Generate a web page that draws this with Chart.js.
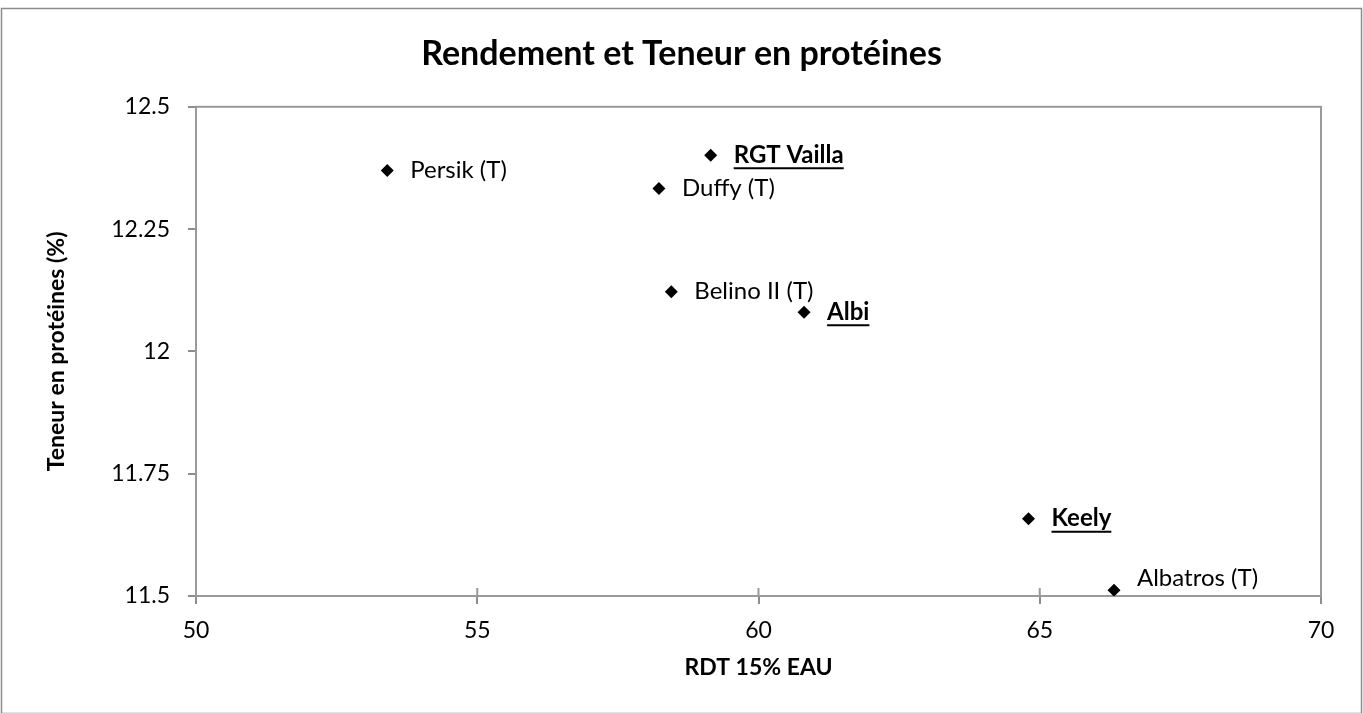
<!DOCTYPE html>
<html>
<head>
<meta charset="utf-8">
<script src="https://cdn.jsdelivr.net/npm/chart.js@4.4.1/dist/chart.umd.min.js"></script>
<style>
  html, body { margin: 0; padding: 0; background: #fff; }
  #wrap { width: 1363px; height: 713px; position: relative; }
</style>
</head>
<body>
<div id="wrap"><canvas id="scatterChart"></canvas></div>
<script>
var varietes = ['Persik (T)', 'RGT Vailla', 'Duffy (T)', 'Belino II (T)', 'Albi', 'Keely', 'Albatros (T)'];
var rdt = [53.40, 59.15, 58.23, 58.45, 60.81, 64.80, 66.32];
var proteines = [12.370, 12.401, 12.333, 12.122, 12.080, 11.658, 11.512];
var nouvelles = [false, true, false, false, true, true, false];

var xTicks = [50, 55, 60, 65, 70];
var yTicks = [11.5, 11.75, 12, 12.25, 12.5];

var police = 'Lato, "Open Sans", sans-serif';
var gris = '#8c8c8c';

var points = [];
varietes.forEach(function (nom, i) {
  points.push({ x: rdt[i], y: proteines[i] });
});

// cadre extérieur, bordure de la zone de tracé et étiquettes des points
var decor = {
  id: 'decor',
  beforeDraw: function (chart) {
    var ctx = chart.ctx;
    ctx.save();
    ctx.strokeStyle = gris;
    ctx.lineWidth = 1.5;
    ctx.strokeRect(1.5, 8.5, chart.width - 3, chart.height - 8);
    var a = chart.chartArea;
    ctx.lineWidth = 2;
    ctx.strokeStyle = '#9a9a9a';
    ctx.strokeRect(a.left, a.top, a.right - a.left, a.bottom - a.top);
    // graduations croisées sur l'axe horizontal
    var sx = chart.scales.x;
    ctx.beginPath();
    xTicks.forEach(function (v) {
      var px = sx.getPixelForValue(v);
      ctx.moveTo(px, a.bottom);
      ctx.lineTo(px, a.bottom - 8);
    });
    ctx.stroke();
    ctx.restore();
  },
  afterDatasetsDraw: function (chart) {
    var ctx = chart.ctx;
    var meta = chart.getDatasetMeta(0);
    var a = chart.chartArea;
    ctx.save();
    ctx.fillStyle = '#000';
    ctx.strokeStyle = '#000';
    ctx.textBaseline = 'middle';
    ctx.textAlign = 'left';
    meta.data.forEach(function (pt, i) {
      var gras = nouvelles[i];
      ctx.font = (gras ? 'bold ' : '') + '24px ' + police;
      var x = pt.x + 23;
      var y = Math.min(pt.y, a.bottom - 18);
      ctx.fillText(varietes[i], x, y);
      if (gras) {
        var w = ctx.measureText(varietes[i]).width;
        ctx.lineWidth = 2;
        ctx.beginPath();
        ctx.moveTo(x, y + 13);
        ctx.lineTo(x + w, y + 13);
        ctx.stroke();
      }
    });
    ctx.restore();
  }
};

var ctx = document.getElementById('scatterChart').getContext('2d');

var scatterChart = new Chart(ctx, {
  type: 'scatter',
  data: {
    datasets: [{
      label: 'Variétés',
      data: points,
      pointStyle: 'rectRot',
      pointRadius: 6.5,
      pointHoverRadius: 6.5,
      backgroundColor: '#000',
      borderColor: '#000',
      borderWidth: 0
    }]
  },
  options: {
    responsive: true,
    maintainAspectRatio: false,
    animation: false,
    layout: { padding: { left: 42, right: 42, top: 0, bottom: 0 } },
    plugins: {
      legend: { display: false },
      tooltip: { enabled: false },
      title: {
        display: true,
        text: 'Rendement et Teneur en protéines',
        color: '#000',
        font: { family: police, size: 34, weight: 'bold' },
        padding: { top: 34, bottom: 32 }
      }
    },
    scales: {
      x: {
        type: 'linear',
        min: 50,
        max: 70,
        afterBuildTicks: function (scale) {
          scale.ticks = xTicks.map(function (v) { return { value: v }; });
        },
        afterFit: function (scale) { scale.height = 117; },
        grid: { drawOnChartArea: false, color: gris, lineWidth: 2, tickLength: 8 },
        border: { color: '#9a9a9a', width: 2 },
        ticks: {
          color: '#000',
          padding: 13,
          font: { family: police, size: 23 },
          callback: function (v) { return String(v); }
        },
        title: {
          display: true,
          text: 'RDT 15% EAU',
          color: '#000',
          font: { family: police, size: 23, weight: 'bold' },
          padding: { top: 0, bottom: 32 }
        }
      },
      y: {
        type: 'linear',
        min: 11.5,
        max: 12.5,
        afterBuildTicks: function (scale) {
          scale.ticks = yTicks.map(function (v) { return { value: v }; });
        },
        afterFit: function (scale) { scale.width = 154; },
        grid: { drawOnChartArea: false, color: gris, lineWidth: 2, tickLength: 8 },
        border: { color: '#9a9a9a', width: 2 },
        ticks: {
          color: '#000',
          padding: 18,
          font: { family: police, size: 23 },
          callback: function (v) { return String(v); }
        },
        title: {
          display: true,
          text: 'Teneur en protéines (%)',
          color: '#000',
          font: { family: police, size: 23, weight: 'bold' },
          padding: { top: 1, bottom: 0 }
        }
      }
    }
  },
  plugins: [decor]
});
</script>
</body>
</html>
